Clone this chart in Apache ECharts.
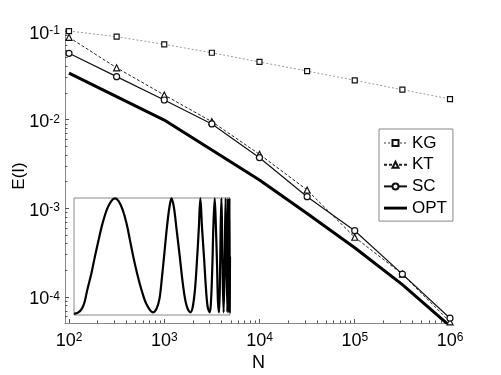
<!DOCTYPE html>
<html>
<head>
<meta charset="utf-8">
<script src="https://cdn.jsdelivr.net/npm/echarts@6/dist/echarts.min.js"></script>
<style>
  html, body { margin: 0; padding: 0; background: #fff; }
  #chart { width: 501px; height: 375px; }
</style>
</head>
<body>
<div id="chart"></div>
<script>
// sample sizes and error values
var N_VALUES = [100, 316.2, 1000, 3162, 10000, 31623, 100000, 316228, 1000000];
var KG  = [0.1, 0.0863, 0.0708, 0.0569, 0.0448, 0.0354, 0.0278, 0.0218, 0.0171];
var KT  = [0.0849, 0.0385, 0.019, 0.0095, 0.00407, 0.00161, 0.000472, 0.000181, 0.0000525];
var SC  = [0.0561, 0.0306, 0.01667, 0.00895, 0.00373, 0.001355, 0.00056, 0.000181, 0.0000577];
var OPT = [0.0336, 0.01824, 0.0099, 0.00455, 0.00209, 0.000877, 0.00036, 0.000138, 0.000047];

// tick exponents
var X_TICKS = [2, 3, 4, 5, 6];
var Y_TICKS = [-4, -3, -2, -1];

// inset curve, normalised to the inset box (0..1 both ways)
var INSET_S = [0.000, 0.026, 0.051, 0.068, 0.085, 0.111, 0.134, 0.158, 0.183, 0.213, 0.239, 0.262,
  0.286, 0.311, 0.337, 0.358, 0.380, 0.405, 0.433, 0.465, 0.505,
  0.529, 0.548, 0.563, 0.580, 0.597, 0.612, 0.625, 0.640, 0.657, 0.678, 0.699, 0.721, 0.746,
  0.761, 0.776, 0.789, 0.800, 0.810, 0.821, 0.834, 0.846, 0.857, 0.870,
  0.878, 0.887, 0.893, 0.902, 0.910, 0.917, 0.923, 0.930,
  0.936, 0.940, 0.945, 0.949, 0.953, 0.959,
  0.966, 0.972, 0.977, 0.983,
  0.987, 0.991, 0.996, 0.998, 1.000];
var INSET_T = [0.009, 0.020, 0.054, 0.111, 0.214, 0.353, 0.499, 0.644, 0.783, 0.909, 0.974, 0.997,
  0.974, 0.903, 0.783, 0.644, 0.499, 0.353, 0.214, 0.091, 0.023,
  0.054, 0.140, 0.311, 0.538, 0.766, 0.923, 0.997, 0.923, 0.738, 0.499, 0.254, 0.083, 0.023,
  0.068, 0.225, 0.481, 0.738, 0.997, 0.738, 0.481, 0.225, 0.068, 0.023,
  0.111, 0.425, 0.738, 0.997, 0.738, 0.425, 0.111, 0.023,
  0.339, 0.738, 0.997, 0.738, 0.339, 0.023,
  0.481, 0.997, 0.481, 0.023,
  0.997, 0.023, 0.997, 0.023, 0.5];

var X_MIN = 1.958, X_MAX = 6.021;
var Y_MIN = -4.293, Y_MAX = -0.977;

function minorTicks(from, to, lo, hi) {
    var out = [];
    for (var n = from; n <= to; n++) {
        for (var k = 2; k <= 9; k++) {
            var v = n + Math.log10(k);
            if (v > lo && v < hi) out.push(v);
        }
    }
    return out;
}

function toLog(vals) {
    return N_VALUES.map(function (n, i) {
        return [Math.log10(n), Math.log10(vals[i])];
    });
}

var FONT = 'Liberation Sans';
var expRich = {
    b: {fontSize: 18, lineHeight: 18, padding: [4, 0, 0, 0], verticalAlign: 'bottom', color: '#000', fontFamily: FONT},
    s: {fontSize: 12, lineHeight: 12, verticalAlign: 'top', color: '#000', fontFamily: FONT}
};
var expLabel = function (v) {
    return '{b|10}{s|' + Math.round(v) + '}';
};

var myChart = echarts.init(document.getElementById('chart'));
var option = {
    animation: false,
    textStyle: {fontFamily: FONT},
    grid: [
        {left: 65, top: 29, width: 387, height: 294, outerBoundsMode: 'none', containLabel: false},
        {left: 74, top: 198, width: 156, height: 117, outerBoundsMode: 'none', show: true, borderColor: '#888', borderWidth: 1, backgroundColor: '#fff'}
    ],
    legend: {
        orient: 'vertical',
        left: 379,
        top: 129,
        itemWidth: 23,
        itemHeight: 7.5,
        itemGap: 4.7,
        padding: [5.5, 6, 4.5, 4],
        borderColor: '#888',
        borderWidth: 1,
        textStyle: {fontSize: 17, color: '#000', fontFamily: FONT},
        data: ['KG', 'KT', 'SC', {name: 'OPT', icon: 'path://M0,0L24,0L24,3L0,3Z'}]
    },
    xAxis: [
        {
            gridIndex: 0, type: 'value', min: X_MIN, max: X_MAX, position: 'bottom',
            name: 'N', nameLocation: 'middle', nameGap: 31, nameMoveOverlap: false,
            nameTextStyle: {fontSize: 18, color: '#000', fontFamily: FONT},
            axisLine: {onZero: false, lineStyle: {color: '#888'}},
            axisTick: {inside: true, length: 4, customValues: X_TICKS, lineStyle: {color: '#555'}},
            axisLabel: {customValues: X_TICKS, margin: 9, formatter: expLabel, rich: expRich},
            splitLine: {show: false}
        },
        {
            gridIndex: 0, type: 'value', min: X_MIN, max: X_MAX, position: 'bottom',
            axisLine: {show: false, onZero: false},
            axisTick: {inside: true, length: 2.5, customValues: minorTicks(1, 6, X_MIN, X_MAX), lineStyle: {color: '#555'}},
            axisLabel: {show: false},
            splitLine: {show: false}
        },
        {gridIndex: 1, type: 'value', min: 0, max: 1, show: false, splitLine: {show: false}}
    ],
    yAxis: [
        {
            gridIndex: 0, type: 'value', min: Y_MIN, max: Y_MAX, position: 'left',
            name: 'E(I)', nameLocation: 'middle', nameGap: 37, nameRotate: 90, nameMoveOverlap: false,
            nameTextStyle: {fontSize: 17, color: '#000', fontFamily: FONT},
            axisLine: {onZero: false, lineStyle: {color: '#888'}},
            axisTick: {inside: true, length: 4, customValues: Y_TICKS, lineStyle: {color: '#555'}},
            axisLabel: {customValues: Y_TICKS, margin: 5, padding: [5, 0, 0, 0], formatter: expLabel, rich: expRich},
            splitLine: {show: false}
        },
        {
            gridIndex: 0, type: 'value', min: Y_MIN, max: Y_MAX, position: 'left',
            axisLine: {show: false, onZero: false},
            axisTick: {inside: true, length: 2.5, customValues: minorTicks(-5, -1, Y_MIN, Y_MAX), lineStyle: {color: '#555'}},
            axisLabel: {show: false},
            splitLine: {show: false}
        },
        {gridIndex: 1, type: 'value', min: 0, max: 1, show: false, splitLine: {show: false}}
    ],
    series: [
        {
            name: 'KG', type: 'line', data: toLog(KG),
            symbol: 'rect', symbolSize: 5,
            lineStyle: {color: '#9a9a9a', width: 1, type: [2, 2]},
            itemStyle: {color: '#fff', borderColor: '#111', borderWidth: 1.2}
        },
        {
            name: 'KT', type: 'line', data: toLog(KT),
            symbol: 'triangle', symbolSize: 6,
            lineStyle: {color: '#222', width: 1, type: [3, 2]},
            itemStyle: {color: '#fff', borderColor: '#111', borderWidth: 1.2}
        },
        {
            name: 'SC', type: 'line', data: toLog(SC),
            symbol: 'circle', symbolSize: 6,
            lineStyle: {color: '#111', width: 1.2},
            itemStyle: {color: '#fff', borderColor: '#111', borderWidth: 1.2}
        },
        {
            name: 'OPT', type: 'line', data: toLog(OPT),
            symbol: 'none',
            lineStyle: {color: '#000', width: 3},
            itemStyle: {color: '#000'}
        },
        {
            name: 'inset', type: 'line', xAxisIndex: 2, yAxisIndex: 2,
            data: INSET_S.map(function (s, i) { return [s, INSET_T[i]]; }),
            symbol: 'none', smooth: 0.35,
            lineStyle: {color: '#000', width: 2.2, join: 'round'}
        }
    ]
};
myChart.setOption(option);
</script>
</body>
</html>
